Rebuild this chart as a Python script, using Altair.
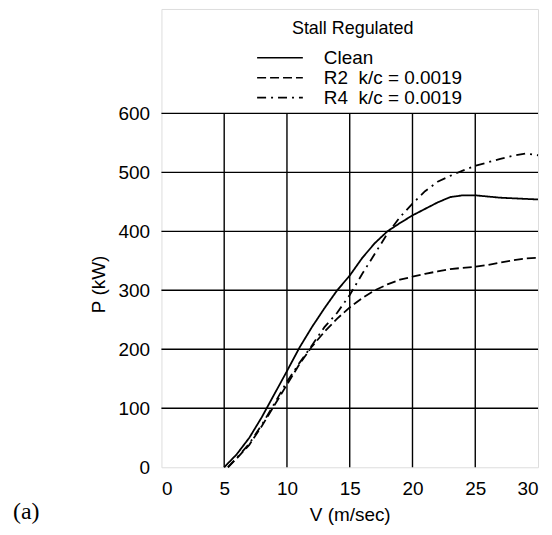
import altair as alt
import pandas as pd

# ---- data ----
clean_v = [5, 6, 7, 8, 9, 10, 11, 12, 13, 14, 15, 16, 17, 18, 19, 20, 21, 22, 23, 24, 25, 26, 27, 28, 29, 30]
clean_p = [0, 22, 50, 85, 124, 163, 203, 238, 270, 300, 325, 355, 380, 400, 414, 427, 438, 449, 458, 461, 461, 459, 457, 456, 455, 454]

r2_v = [5.3, 6, 7, 8, 9, 10, 11, 12, 13, 14, 15, 16, 17, 18, 19, 20, 21, 22, 23, 24, 25, 26, 27, 28, 29, 30]
r2_p = [0, 15, 38, 70, 105, 140, 175, 205, 230, 252, 271, 287, 300, 310, 318, 323, 328, 332, 336, 338, 340, 343, 347, 351, 354, 355]

r4_v = [5.3, 6, 7, 8, 9, 10, 11, 12, 13, 14, 15, 16, 17, 18, 19, 20, 21, 22, 23, 24, 25, 26, 27, 28, 29, 30]
r4_p = [0, 16, 40, 72, 108, 145, 177, 207, 238, 262, 292, 328, 362, 396, 424, 447, 468, 484, 494, 503, 511, 517, 523, 528, 532, 529]

series_names = ["Clean", "R2\u00a0\u00a0k/c = 0.0019", "R4\u00a0\u00a0k/c = 0.0019"]
dash_patterns = [[1, 0], [9, 4], [9, 5, 2, 5]]
legend_title = ["Stall Regulated"]

x_ticks = [0, 5, 10, 15, 20, 25, 30]
y_ticks = [0, 100, 200, 300, 400, 500, 600]
v_grid = [5, 10, 15, 20, 25]
p_grid = [100, 200, 300, 400, 500, 600]

rows = []
for name, vs, ps in zip(series_names, [clean_v, r2_v, r4_v], [clean_p, r2_p, r4_p]):
    for v, p in zip(vs, ps):
        rows.append({"V": v, "P": p, "series": name})
df = pd.DataFrame(rows)

W, H = 378, 460
FONT = "Liberation Sans"

xs = alt.Scale(domain=[0, 30], nice=False, zero=False)
ys = alt.Scale(domain=[0, 777], nice=False)

hgrid = alt.Chart(pd.DataFrame({"P": p_grid})).mark_rule(color="black", strokeWidth=1.4).encode(
    y=alt.Y("P:Q", scale=ys)
)
vgrid = alt.Chart(pd.DataFrame({"V": v_grid})).mark_rule(color="black", strokeWidth=1.4).encode(
    x=alt.X("V:Q", scale=xs),
    y=alt.datum(0),
    y2=alt.datum(600),
)

lines = alt.Chart(df).mark_line(color="black", strokeWidth=1.8).encode(
    x=alt.X(
        "V:Q",
        scale=xs,
        axis=alt.Axis(
            values=x_ticks,
            title="V (m/sec)",
            grid=False,
            domain=False,
            ticks=False,
            labelFontSize=19,
            labelPadding=12,
            labelFont=FONT,
            labelColor="black",
            titleFont=FONT,
            titleFontSize=19,
            titleFontWeight="normal",
            titleColor="black",
            titleBaseline="middle",
            titleY=47,
        ),
    ),
    y=alt.Y(
        "P:Q",
        scale=ys,
        axis=alt.Axis(
            values=y_ticks,
            title="P (kW)",
            grid=False,
            domain=False,
            ticks=False,
            labelFontSize=19,
            labelPadding=12,
            labelFont=FONT,
            labelColor="black",
            titleFont=FONT,
            titleFontSize=19,
            titleFontWeight="normal",
            titleColor="black",
            titleAngle=-90,
            titleBaseline="middle",
            titleX=-63,
            titleY=276,
        ),
    ),
    strokeDash=alt.StrokeDash(
        "series:N",
        scale=alt.Scale(domain=series_names, range=dash_patterns),
        sort=series_names,
        legend=alt.Legend(
            title=None,
            orient="none",
            legendX=109,
            legendY=39,
            labelFont=FONT,
            labelFontSize=19,
            labelColor="black",
            labelOffset=34,
            symbolType="M-2.55,0H2.55",
            symbolSize=324,
            symbolStrokeWidth=1.6,
            symbolStrokeColor="black",
            rowPadding=0,
            padding=0,
        ),
    ),
    order="V:Q",
)

title_txt = alt.Chart(pd.DataFrame({"t": legend_title})).mark_text(
    font=FONT, fontSize=18, align="center", baseline="middle", color="black"
).encode(x=alt.value(192), y=alt.value(20), text="t:N")

label_a = alt.Chart(pd.DataFrame({"t": ["(a)"]})).mark_text(
    font="Liberation Serif", fontSize=24, align="left", baseline="middle", color="black"
).encode(x=alt.value(-149), y=alt.value(505), text="t:N")

chart = (
    alt.layer(hgrid, vgrid, lines, title_txt, label_a)
    .properties(
        width=W,
        height=H,
        autosize=alt.AutoSizeParams(type="none"),
        padding={"left": 154, "top": 0, "right": 6, "bottom": 59},
    )
    .configure_view(stroke="black", strokeWidth=1.6)
    .configure(background="white")
)

chart.save("out.html", embed_options={"renderer": "svg", "actions": False})
